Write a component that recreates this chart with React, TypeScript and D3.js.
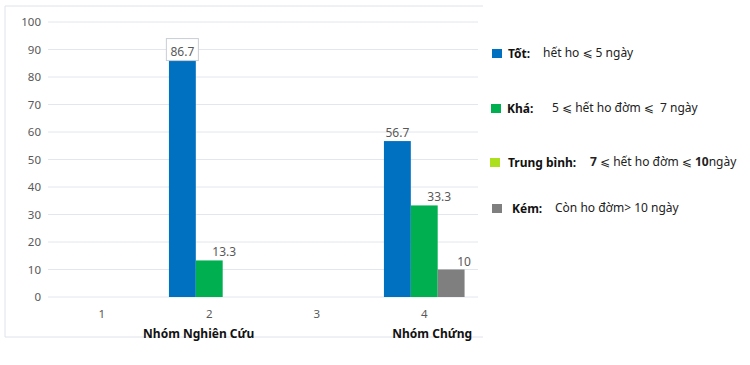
import React from "react";
import * as d3 from "d3";

// chart data
const categories = ["1", "2", "3", "4"];
const seriesNames = ["Tốt", "Khá", "Kém"];
const seriesColors = ["#0070c0", "#00b050", "#7f7f7f"];
const tot: (number | null)[] = [null, 86.7, null, 56.7];
const kha: (number | null)[] = [null, 13.3, null, 33.3];
const kem: (number | null)[] = [null, null, null, 10];
const yTicks = [0, 10, 20, 30, 40, 50, 60, 70, 80, 90, 100];
const groupTitleCats = ["2", "4"];
const groupTitles = ["Nhóm Nghiên Cứu", "Nhóm Chứng"];

// legend (text box beside the chart)
const legendNames = ["Tốt:", "Khá:", "Trung bình:", "Kém:"];
const legendColors = ["#0070c0", "#00b050", "#acdf1e", "#7f7f7f"];
const legendDescs: [string, boolean][][] = [
  [["hết ho ⩽ 5 ngày", false]],
  [["5 ⩽ hết ho đờm ⩽  7 ngày", false]],
  [["7", true], [" ⩽ hết ho đờm ⩽ ", false], ["10", true], ["ngày", false]],
  [["Còn ho đờm> 10 ngày", false]],
];

const W = 750;
const H = 365;
const FONT = "'Noto Sans', 'DejaVu Sans', sans-serif";
const GRAY = "#595959";

const App = () => {
  const margin = { top: 22, left: 48, right: 272, bottom: 68 };
  const x = d3
    .scaleBand()
    .domain(categories)
    .range([margin.left, W - margin.right])
    .padding(0);
  const x1 = d3
    .scaleBand()
    .domain(seriesNames)
    .range([0, x.bandwidth()])
    .paddingOuter(0.5)
    .paddingInner(0);
  const y = d3.scaleLinear().domain([0, 100]).range([H - margin.bottom, margin.top]);

  const values = [tot, kha, kem];
  // value labels of the green and grey bars sit a bit to the right
  const labelShift = [0, 15, 13];

  const [x0, x2] = x.range();

  // legend layout
  const legendRowY = [58, 113, 167, 213];
  const legendSwatchX = [492, 491, 490, 492];
  const legendNameX = [508, 507, 508, 512];
  const legendDescX = [543, 552, 590, 555];

  return (
    <div style={{ position: "absolute", left: 0, top: 0 }}>
      <svg width={W} height={H} style={{ display: "block", background: "#fff" }} fontFamily={FONT}>
        {/* chart frame */}
        <path d="M483,6 H5 V337 H483" fill="none" stroke="#dfe2e8" strokeWidth={1} />

        {/* gridlines and y labels */}
        {yTicks.map((t) => (
          <g key={t}>
            <line x1={x0} x2={x2} y1={y(t)} y2={y(t)} stroke="#e3e6ec" strokeWidth={1} />
            <text x={41} y={y(t) + 4} textAnchor="end" fontSize={11.5} fill={GRAY}>
              {t}
            </text>
          </g>
        ))}

        {/* category labels */}
        {categories.map((c) => (
          <text key={c} x={(x(c) as number) + x.bandwidth() / 2} y={318} textAnchor="middle" fontSize={11.5} fill={GRAY}>
            {c}
          </text>
        ))}

        {/* bars */}
        {seriesNames.map((s, si) =>
          categories.map((c, ci) => {
            const v = values[si][ci];
            if (v == null) return null;
            const bx = (x(c) as number) + (x1(s) as number);
            return (
              <rect key={s + c} x={bx} y={y(v)} width={x1.bandwidth()} height={y(0) - y(v)} fill={seriesColors[si]} />
            );
          })
        )}

        {/* value labels */}
        {seriesNames.map((s, si) =>
          categories.map((c, ci) => {
            const v = values[si][ci];
            if (v == null) return null;
            const cx = (x(c) as number) + (x1(s) as number) + x1.bandwidth() / 2 + labelShift[si];
            const boxed = y(v) < y(90) + 12;
            const by = boxed ? y(v) - 2.5 : y(v) - 4;
            return (
              <g key={"l" + s + c}>
                {boxed && (
                  <rect x={cx - 16} y={by - 17.5} width={32} height={22} fill="#fff" stroke="#c9ced6" strokeWidth={1} />
                )}
                <text x={cx} y={by} textAnchor="middle" fontSize={12} fill={GRAY}>
                  {v}
                </text>
              </g>
            );
          })
        )}

        {/* group titles */}
        {groupTitleCats.map((c, i) => (
          <text
            key={c}
            x={(x(c) as number) + x.bandwidth() / 2 + (i === 0 ? -10.5 : 8)}
            y={338}
            textAnchor="middle"
            fontSize={12}
            fontWeight="bold"
            fill="#111"
          >
            {groupTitles[i]}
          </text>
        ))}

        {/* legend */}
        {legendNames.map((n, i) => (
          <g key={n}>
            <rect x={legendSwatchX[i]} y={legendRowY[i] - 9} width={10} height={9} fill={legendColors[i]} />
            <text x={legendNameX[i]} y={legendRowY[i]} fontSize={12} fontWeight="bold" fill="#111">
              {n}
            </text>
            <text x={legendDescX[i]} y={legendRowY[i] - 1} fontSize={12} fill="#222">
              {legendDescs[i].map(([t, b], k) => (
                <tspan key={k} fontWeight={b ? "bold" : "normal"} xmlSpace="preserve">
                  {t}
                </tspan>
              ))}
            </text>
          </g>
        ))}
      </svg>
    </div>
  );
};

export default App;
